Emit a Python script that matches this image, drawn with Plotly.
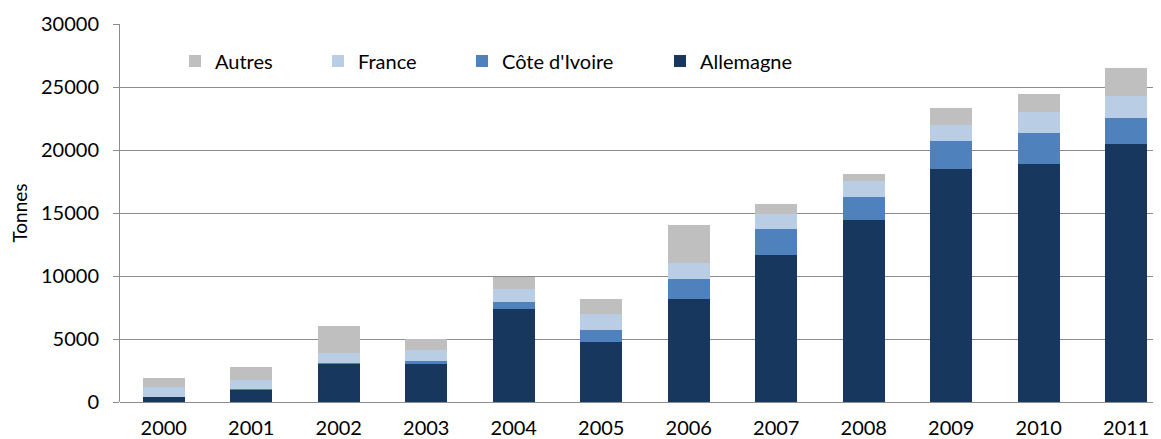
import plotly.graph_objects as go

years = ["2000", "2001", "2002", "2003", "2004", "2005", "2006", "2007", "2008", "2009", "2010", "2011"]
allemagne = [400, 1030, 3050, 3090, 7400, 4780, 8190, 11670, 14450, 18490, 18880, 20440]
cote_ivoire = [30, 30, 50, 130, 530, 900, 1560, 2080, 1820, 2220, 2480, 2080]
france = [730, 710, 750, 900, 1030, 1320, 1270, 1190, 1270, 1270, 1640, 1800]
autres = [740, 1030, 2220, 870, 950, 1165, 3010, 770, 550, 1320, 1450, 2220]

# page body has an 8px margin; figure positions below are in screen pixels
OFF = 8
series = [
    ("Allemagne", allemagne, "#17375E", "legend4", 660),
    ("Côte d'Ivoire", cote_ivoire, "#4F81BD", "legend3", 462),
    ("France", france, "#B9CDE5", "legend2", 318),
    ("Autres", autres, "#BFBFBF", "legend", 175),
]

FONT = "Lato"
W, H = 1161 - OFF, 439 - OFF
PLOT_L, PLOT_T, PLOT_H = 120 - OFF, 24 - OFF, 378
PLOT_W = W - PLOT_L

fig = go.Figure()
for name, vals, color, lg, _ in series:
    fig.add_trace(go.Bar(
        x=years, y=vals, name=name, legend=lg,
        marker=dict(color=color, line=dict(width=0)),
    ))

layout_legends = {}
for name, vals, color, lg, left in series:
    layout_legends[lg] = dict(
        x=(left - OFF - PLOT_L) / PLOT_W, xref="paper", xanchor="left",
        y=(PLOT_T + PLOT_H - (61 - OFF)) / PLOT_H, yref="paper", yanchor="middle",
        orientation="h", bgcolor="rgba(0,0,0,0)",
        font=dict(family=FONT, size=20, color="#000000"),
    )

fig.update_layout(
    width=W, height=H,
    margin=dict(l=PLOT_L, r=0, t=PLOT_T, b=H - PLOT_T - PLOT_H, autoexpand=False),
    paper_bgcolor="white", plot_bgcolor="white",
    barmode="stack", bargap=0.52,
    font=dict(family=FONT, size=20, color="#000000"),
    showlegend=True,
    **layout_legends,
)
fig.update_xaxes(
    type="category", range=[-0.5, 11.397],
    showgrid=False, showline=False, ticks="",
    ticklabelstandoff=12,
    tickfont=dict(family=FONT, size=20),
)
fig.update_yaxes(
    range=[0, 30000], dtick=5000, tickformat="d",
    showgrid=True, gridcolor="#8C8C8C", gridwidth=1,
    zeroline=True, zerolinecolor="#8C8C8C", zerolinewidth=1,
    showline=True, linecolor="#8C8C8C", linewidth=1,
    ticks="outside", ticklen=6, tickcolor="#8C8C8C",
    ticklabelstandoff=10,
    tickfont=dict(family=FONT, size=20),
    title=dict(text="Tonnes", font=dict(family=FONT, size=19), standoff=9),
)

fig.write_html("out.html")
